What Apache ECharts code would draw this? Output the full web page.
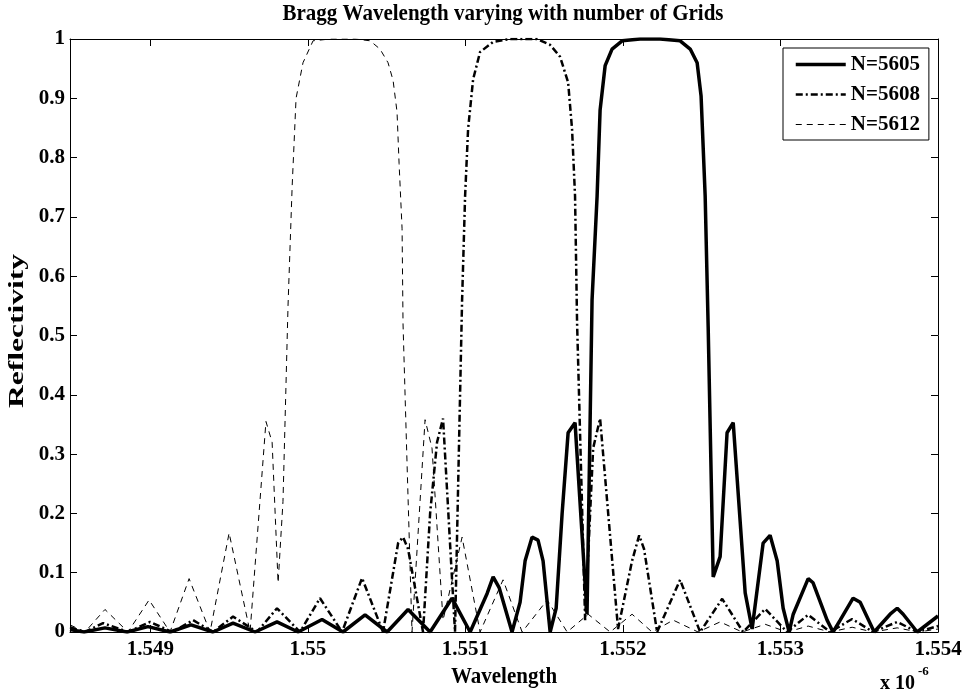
<!DOCTYPE html>
<html><head><meta charset="utf-8">
<script src="https://cdn.jsdelivr.net/npm/echarts@6/dist/echarts.min.js"></script>
<style>html,body{margin:0;padding:0;background:#fff}#c{width:966px;height:696px}</style>
</head><body><div id="c"></div>
<script>
// x values are wavelengths in units of 1e-6 m
const xTicks = [1.549, 1.550, 1.551, 1.552, 1.553, 1.554];
const yTicks = [0, 0.1, 0.2, 0.3, 0.4, 0.5, 0.6, 0.7, 0.8, 0.9, 1];
const seriesNames = ['N=5605', 'N=5608', 'N=5612'];

const wl5605 = [1.548490,1.548579,1.548712,1.548852,1.548985,1.549125,1.549258,1.549398,1.549525,1.549665,
  1.549804,1.549938,1.550090,1.550223,1.550363,1.550503,1.550636,1.550776,1.550915,1.551030,
  1.551138,1.551176,1.551214,1.551296,1.551347,1.551379,1.551423,1.551461,1.551493,1.551538,
  1.551576,1.551614,1.551652,1.551696,1.551772,1.551804,1.551836,1.551855,1.551887,1.551931,
  1.551995,1.552109,1.552236,1.552363,1.552427,1.552471,1.552496,1.552522,1.552541,1.552573,
  1.552617,1.552661,1.552700,1.552776,1.552820,1.552890,1.552934,1.552979,1.553017,1.553055,
  1.553081,1.553176,1.553207,1.553296,1.553334,1.553379,1.553461,1.553506,1.553595,1.553696,
  1.553741,1.553779,1.553868,1.554000];
const r5605 = [0.004,0,0.007,0,0.009,0,0.012,0,0.015,0,
  0.017,0,0.021,0,0.029,0,0.038,0,0.057,0,
  0.065,0.093,0.075,0,0.05,0.12,0.16,0.155,0.12,0,
  0.04,0.2,0.336,0.353,0.03,0.56,0.735,0.88,0.955,0.983,
  0.997,1.0,1.0,0.997,0.983,0.96,0.904,0.735,0.515,0.093,
  0.127,0.336,0.353,0.066,0.005,0.15,0.163,0.12,0.04,0,
  0.03,0.09,0.083,0.02,0,0.02,0.057,0.05,0,0.03,
  0.04,0.03,0,0.027];

const wl5608 = [1.548490,1.548585,1.548700,1.548858,1.548998,1.549138,1.549271,1.549398,1.549525,1.549677,
  1.549804,1.549950,1.550077,1.550217,1.550344,1.550477,1.550541,1.550573,1.550604,1.550636,
  1.550731,1.550776,1.550820,1.550858,1.550934,1.550979,1.550998,1.551017,1.551049,1.551093,
  1.551176,1.551284,1.551455,1.551538,1.551601,1.551652,1.551677,1.551696,1.551709,1.551760,
  1.551811,1.551855,1.551969,1.552058,1.552103,1.552134,1.552217,1.552363,1.552490,1.552630,
  1.552763,1.552903,1.553042,1.553176,1.553315,1.553455,1.553588,1.553741,1.553868,1.554000];
const r5608 = [0.008,0,0.015,0,0.017,0,0.02,0,0.026,0,
  0.04,0,0.057,0,0.091,0,0.1,0.15,0.16,0.14,
  0,0.2,0.32,0.36,0,0.56,0.735,0.848,0.932,0.978,
  0.995,1.0,1.0,0.99,0.97,0.927,0.848,0.735,0.52,0.02,
  0.31,0.36,0.005,0.12,0.163,0.14,0,0.088,0,0.056,
  0,0.039,0,0.029,0,0.022,0,0.017,0,0.01];

const wl5612 = [1.548490,1.548585,1.548712,1.548858,1.548992,1.549125,1.549246,1.549379,1.549500,1.549633,
  1.549734,1.549773,1.549811,1.549842,1.549874,1.549900,1.549925,1.549969,1.550033,1.550141,
  1.550300,1.550395,1.550458,1.550509,1.550541,1.550566,1.550579,1.550598,1.550604,1.550630,
  1.550661,1.550744,1.550788,1.550858,1.550979,1.551093,1.551239,1.551360,1.551519,1.551646,
  1.551779,1.551919,1.552058,1.552185,1.552319,1.552477,1.552617,1.552757,1.552903,1.553042,
  1.553176,1.553315,1.553455,1.553588,1.553741,1.553874,1.554000];
const r5612 = [0.012,0,0.038,0,0.054,0,0.09,0,0.167,0,
  0.355,0.32,0.083,0.22,0.55,0.75,0.9,0.96,0.997,1.0,
  1.0,0.997,0.983,0.96,0.93,0.877,0.79,0.68,0.52,0.28,
  0,0.358,0.31,0.02,0.16,0,0.088,0,0.054,0,
  0.03,0,0.03,0,0.02,0,0.017,0,0.013,0,
  0.01,0,0.008,0,0.007,0,0.005];

const zip = (xs, ys) => xs.map((x, i) => [x, ys[i]]);
const FONT = '"Liberation Serif", "Times New Roman", serif';

const chart = echarts.init(document.getElementById('c'), null, {renderer: 'canvas'});
const axisCommon = {
  type: 'value',
  axisLine: {show: true, onZero: false, lineStyle: {color: '#000', width: 1}},
  splitLine: {show: false}
};
chart.setOption({
  animation: false,
  backgroundColor: '#fff',
  grid: {left: 70, right: 28, top: 39, bottom: 64},
  graphic: [
    {type: 'text', x: 503, y: 14, scaleY: 1.1, style: {text: 'Bragg Wavelength varying with number of Grids', fill: '#000',
      font: 'bold 21px ' + FONT, textAlign: 'center', textVerticalAlign: 'middle'}},
    {type: 'text', x: 504, y: 677, scaleY: 1.1, style: {text: 'Wavelength', fill: '#000',
      font: 'bold 21px ' + FONT, textAlign: 'center', textVerticalAlign: 'middle'}},
    {type: 'text', x: 18, y: 331, rotation: Math.PI / 2, scaleX: 1.5, style: {text: 'Reflectivity', fill: '#000',
      font: 'bold 21px ' + FONT, textAlign: 'center', textVerticalAlign: 'middle'}},
    {type: 'text', x: 880, y: 684, style: {text: 'x 10', fill: '#000',
      font: 'bold 20px ' + FONT, textAlign: 'left', textVerticalAlign: 'middle'}},
    {type: 'text', x: 918, y: 672, style: {text: '-6', fill: '#000',
      font: 'bold 13px ' + FONT, textAlign: 'left', textVerticalAlign: 'middle'}}
  ],
  legend: {
    data: seriesNames,
    orient: 'vertical',
    left: 783, top: 48,
    padding: [6, 9, 5, 11],
    itemWidth: 50, itemHeight: 16, itemGap: 9,
    borderColor: '#000', borderWidth: 1, backgroundColor: '#fff',
    itemStyle: {opacity: 0},
    lineStyle: {width: 'inherit'},
    textStyle: {fontFamily: FONT, fontWeight: 'bold', fontSize: 21, color: '#000'}
  },
  xAxis: [
    Object.assign({}, axisCommon, {
      position: 'bottom', min: 1.54849, max: 1.554,
      axisTick: {inside: true, length: 7, customValues: xTicks, lineStyle: {color: '#000'}},
      axisLabel: {customValues: xTicks, margin: 7, color: '#000', fontFamily: FONT, fontWeight: 'bold', fontSize: 21,
        formatter: v => String(parseFloat(v.toFixed(3)))}
    }),
    Object.assign({}, axisCommon, {
      position: 'top', min: 1.54849, max: 1.554,
      axisTick: {inside: true, length: 7, customValues: xTicks, lineStyle: {color: '#000'}},
      axisLabel: {show: false}
    })
  ],
  yAxis: [
    Object.assign({}, axisCommon, {
      position: 'left', min: 0, max: 1, interval: 0.1,
      axisTick: {inside: true, length: 7, customValues: yTicks, lineStyle: {color: '#000'}},
      axisLabel: {customValues: yTicks, margin: 5, color: '#000', fontFamily: FONT, fontWeight: 'bold', fontSize: 21,
        formatter: v => String(parseFloat(v.toFixed(1)))}
    }),
    Object.assign({}, axisCommon, {
      position: 'right', min: 0, max: 1, interval: 0.1,
      axisTick: {inside: true, length: 7, customValues: yTicks, lineStyle: {color: '#000'}},
      axisLabel: {show: false}
    })
  ],
  series: [
    {name: seriesNames[0], type: 'line', symbol: 'none', data: zip(wl5605, r5605), z: 3,
      lineStyle: {color: '#000', width: 3.5, type: 'solid'}, itemStyle: {color: '#000'}},
    {name: seriesNames[1], type: 'line', symbol: 'none', data: zip(wl5608, r5608), z: 2,
      lineStyle: {color: '#000', width: 2.5, type: [7, 3, 2, 3]}, itemStyle: {color: '#000'}},
    {name: seriesNames[2], type: 'line', symbol: 'none', data: zip(wl5612, r5612), z: 1,
      lineStyle: {color: '#000', width: 1, type: [6, 5]}, itemStyle: {color: '#000'}}
  ]
});
</script></body></html>
